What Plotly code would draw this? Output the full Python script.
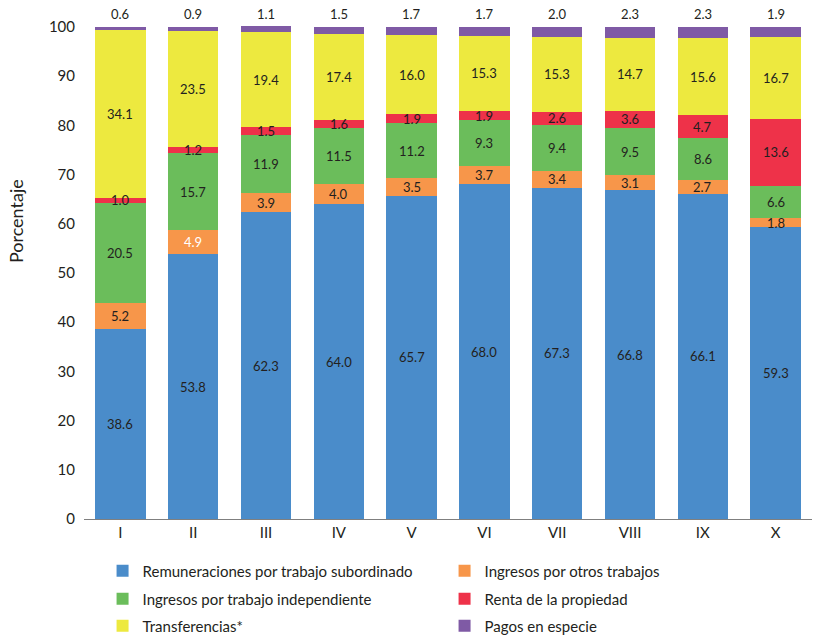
import plotly.graph_objects as go

# Deciles (I = poorest ... X = richest)
deciles = ["I", "II", "III", "IV", "V", "VI", "VII", "VIII", "IX", "X"]

# Income composition, percentage of total per decile
remuneraciones = [38.6, 53.8, 62.3, 64.0, 65.7, 68.0, 67.3, 66.8, 66.1, 59.3]
otros_trabajos = [5.2, 4.9, 3.9, 4.0, 3.5, 3.7, 3.4, 3.1, 2.7, 1.8]
independiente  = [20.5, 15.7, 11.9, 11.5, 11.2, 9.3, 9.4, 9.5, 8.6, 6.6]
renta          = [1.0, 1.2, 1.5, 1.6, 1.9, 1.9, 2.6, 3.6, 4.7, 13.6]
transferencias = [34.1, 23.5, 19.4, 17.4, 16.0, 15.3, 15.3, 14.7, 15.6, 16.7]
especie        = [0.6, 0.9, 1.1, 1.5, 1.7, 1.7, 2.0, 2.3, 2.3, 1.9]

# name, values, colour, which legend row it sits in
series = [
    ("Remuneraciones por trabajo subordinado", remuneraciones, "#4a8cca", "legend"),
    ("Ingresos por otros trabajos",            otros_trabajos, "#f7964a", "legend"),
    ("Ingresos por trabajo independiente",     independiente,  "#6bbd5b", "legend2"),
    ("Renta de la propiedad",                  renta,          "#ee3249", "legend2"),
    ("Transferencias*",                        transferencias, "#ede93f", "legend3"),
    ("Pagos en especie",                       especie,        "#7f5aa5", "legend3"),
]

FONT = "Lato, 'Open Sans', sans-serif"
TXT = "#231f20"

fig = go.Figure()
for name, vals, color, leg in series:
    fig.add_trace(go.Bar(
        x=deciles, y=vals, name=name, legend=leg,
        marker=dict(color=color, line=dict(width=0)),
        cliponaxis=False,
        hoverinfo="skip",
    ))

# value labels: centred in each segment, purple ones above the bar
annotations = []
base = [0.0] * len(deciles)
for k, (name, vals, color, leg) in enumerate(series):
    for i, v in enumerate(vals):
        if k == len(series) - 1:
            annotations.append(dict(
                x=deciles[i], y=100, text=f"{v:.1f}",
                yanchor="bottom", yshift=3, showarrow=False,
                font=dict(size=13, color=TXT, family=FONT)))
        else:
            col = "white" if (k == 1 and i == 1) else TXT
            annotations.append(dict(
                x=deciles[i], y=base[i] + v / 2, text=f"{v:.1f}",
                showarrow=False,
                font=dict(size=13, color=col, family=FONT)))
        base[i] += v

# y-axis title
annotations.append(dict(
    xref="paper", yref="paper", x=-0.093, y=0.60, text="Porcentaje",
    textangle=-90, showarrow=False, xanchor="center", yanchor="middle",
    font=dict(size=18, family=FONT, color=TXT)))

def legend_row(ypos):
    # one horizontal legend per row, placed in page (container) coordinates
    return dict(
        orientation="h",
        xref="container", yref="container",
        x=0.126, y=ypos, xanchor="left", yanchor="middle",
        entrywidth=297, entrywidthmode="pixels",
        traceorder="normal",
        font=dict(size=15, family=FONT, color=TXT),
        bgcolor="rgba(0,0,0,0)",
    )

fig.update_layout(
    barmode="stack",
    bargap=0.31,
    width=814, height=635,
    margin=dict(l=84, r=2, t=22, b=116),
    plot_bgcolor="white",
    paper_bgcolor="white",
    font=dict(family=FONT, size=14, color=TXT),
    annotations=annotations,
    showlegend=True,
    legend=legend_row(1 - 571 / 635),
    legend2=legend_row(1 - 599 / 635),
    legend3=legend_row(1 - 626 / 635),
    xaxis=dict(
        showline=True, linecolor="#7f7f7f", linewidth=1,
        ticks="", tickfont=dict(size=15), automargin=False,
    ),
    yaxis=dict(
        range=[0, 101], dtick=10, showgrid=False, zeroline=False,
        showline=False, ticks="outside", ticklen=5, tickcolor="white",
        tickfont=dict(size=15), automargin=False,
    ),
)

# drop the browser's default 8px body margin so the figure fills the window
fig.write_html("out.html", config={"displayModeBar": False},
               post_script="document.body.style.margin='0';")
